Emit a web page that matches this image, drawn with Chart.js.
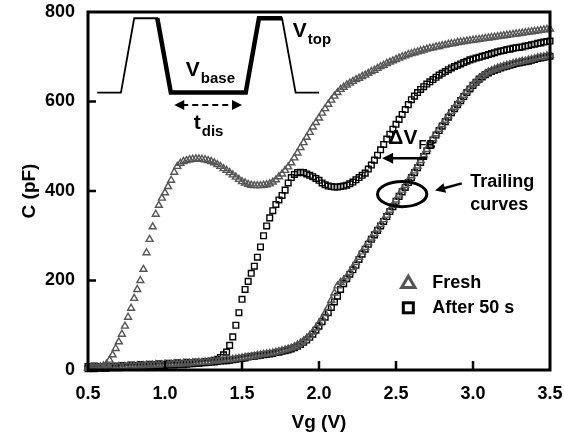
<!DOCTYPE html>
<html>
<head>
<meta charset="utf-8">
<title>C-V</title>
<script src="https://cdn.jsdelivr.net/npm/chart.js@4.4.1/dist/chart.umd.min.js"></script>
<style>
  html, body { margin: 0; padding: 0; background: #fff; }
  canvas { display: block; }
</style>
</head>
<body>
<canvas id="cv" width="564" height="440"></canvas>
<script>
// gate voltage sweep (V)
const vg = [
  0.50, 0.52, 0.54, 0.56, 0.58, 0.60, 0.62, 0.64, 0.66, 0.68,
  0.70, 0.72, 0.74, 0.76, 0.78, 0.80, 0.82, 0.84, 0.86, 0.88,
  0.90, 0.92, 0.94, 0.96, 0.98, 1.00, 1.02, 1.04, 1.06, 1.08,
  1.10, 1.12, 1.14, 1.16, 1.18, 1.20, 1.22, 1.24, 1.26, 1.28,
  1.30, 1.32, 1.34, 1.36, 1.38, 1.40, 1.42, 1.44, 1.46, 1.48,
  1.50, 1.52, 1.54, 1.56, 1.58, 1.60, 1.62, 1.64, 1.66, 1.68,
  1.70, 1.72, 1.74, 1.76, 1.78, 1.80, 1.82, 1.84, 1.86, 1.88,
  1.90, 1.92, 1.94, 1.96, 1.98, 2.00, 2.02, 2.04, 2.06, 2.08,
  2.10, 2.12, 2.14, 2.16, 2.18, 2.20, 2.22, 2.24, 2.26, 2.28,
  2.30, 2.32, 2.34, 2.36, 2.38, 2.40, 2.42, 2.44, 2.46, 2.48,
  2.50, 2.52, 2.54, 2.56, 2.58, 2.60, 2.62, 2.64, 2.66, 2.68,
  2.70, 2.72, 2.74, 2.76, 2.78, 2.80, 2.82, 2.84, 2.86, 2.88,
  2.90, 2.92, 2.94, 2.96, 2.98, 3.00, 3.02, 3.04, 3.06, 3.08,
  3.10, 3.12, 3.14, 3.16, 3.18, 3.20, 3.22, 3.24, 3.26, 3.28,
  3.30, 3.32, 3.34, 3.36, 3.38, 3.40, 3.42, 3.44, 3.46, 3.48,
  3.50
];

// capacitance (pF), fresh device, leading sweep
const freshMain = [
  5, 6, 5, 6, 7, 9, 13, 22, 34, 48,
  63, 80, 98, 118, 138, 160, 180, 200, 225, 262,
  292, 320, 348, 368, 384, 396, 410, 424, 442, 455,
  462, 466, 468, 470, 471, 472, 472, 471, 470, 468,
  466, 463, 459, 455, 450, 446, 441, 436, 431, 426,
  421, 418, 415, 413, 412, 412, 412, 413, 414, 416,
  420, 425, 432, 438, 446, 454, 463, 474, 485, 497,
  508, 520, 531, 543, 553, 563, 574, 584, 594, 603,
  612, 620, 627, 632, 637, 641, 645, 649, 652, 656,
  659, 663, 667, 670, 674, 678, 681, 685, 688, 691,
  694, 697, 700, 702, 705, 707, 709, 711, 713, 715,
  717, 719, 720, 722, 723, 725, 726, 728, 729, 730,
  732, 733, 734, 735, 736, 737, 738, 739, 740, 741,
  742, 743, 744, 745, 746, 747, 748, 749, 750, 751,
  752, 753, 754, 755, 756, 757, 758, 759, 760, 761,
  762
];

// fresh device, trailing sweep
const freshTrail = [
  5, 4, 6, 5, 6, 5, 7, 6, 7, 6,
  8, 7, 8, 9, 8, 9, 10, 9, 10, 11,
  10, 11, 12, 11, 12, 13, 12, 13, 14, 13,
  14, 15, 14, 15, 16, 16, 17, 17, 18, 18,
  19, 20, 20, 21, 22, 23, 23, 24, 25, 26,
  27, 28, 29, 30, 31, 33, 34, 35, 36, 37,
  38, 40, 41, 43, 45, 47, 49, 52, 56, 60,
  65, 71, 77, 85, 94, 104, 115, 127, 140, 156,
  172, 188, 196, 201, 208, 218, 229, 240, 252, 264,
  274, 285, 295, 305, 315, 325, 336, 346, 357, 368,
  380, 391, 402, 413, 423, 434, 445, 456, 468, 481,
  493, 505, 517, 528, 538, 548, 558, 568, 578, 587,
  596, 605, 614, 622, 630, 638, 645, 651, 657, 662,
  666, 669, 672, 675, 677, 679, 681, 683, 685, 687,
  688, 690, 691, 693, 694, 696, 698, 699, 700, 702,
  703
];

// after 50 s, leading sweep
const stressMain = [
  8, 6, 9, 7, 8, 6, 9, 8, 7, 9,
  8, 10, 8, 9, 11, 9, 10, 12, 10, 11,
  13, 11, 12, 14, 12, 13, 15, 13, 14, 16,
  14, 15, 17, 15, 16, 18, 16, 17, 19, 18,
  20, 22, 24, 28, 34, 40, 55, 74, 100, 128,
  158, 180, 198, 216, 232, 252, 275, 300, 322, 340,
  356, 370, 380, 390, 402, 418, 430, 437, 441, 442,
  441, 438, 435, 432, 428, 424, 418, 414, 411, 410,
  409, 409, 410, 411, 413, 416, 420, 425, 430, 435,
  440, 449, 458, 469, 480, 492, 504, 516, 527, 538,
  549, 560, 571, 582, 593, 604, 612, 620, 627, 633,
  639, 644, 649, 654, 659, 663, 667, 671, 675, 678,
  681, 684, 687, 690, 693, 695, 697, 699, 701, 703,
  705, 707, 709, 711, 713, 714, 716, 717, 719, 720,
  721, 722, 724, 725, 727, 728, 730, 731, 733, 734,
  735
];

// after 50 s, trailing sweep
const stressTrail = [
  3, 4, 3, 5, 4, 5, 4, 6, 5, 6,
  5, 7, 6, 7, 6, 8, 7, 8, 9, 8,
  9, 10, 9, 10, 11, 10, 11, 12, 11, 12,
  13, 12, 13, 14, 14, 15, 15, 16, 16, 17,
  18, 18, 19, 20, 21, 21, 22, 23, 24, 25,
  26, 27, 29, 30, 31, 32, 33, 34, 35, 36,
  37, 39, 40, 42, 43, 45, 47, 50, 53, 57,
  62, 67, 73, 80, 89, 98, 108, 118, 128, 140,
  152, 165, 180, 193, 204, 214, 224, 234, 247, 259,
  270, 281, 292, 302, 312, 322, 332, 343, 354, 365,
  377, 388, 398, 408, 419, 430, 441, 452, 464, 477,
  490, 502, 514, 525, 535, 545, 555, 565, 575, 584,
  593, 602, 611, 620, 628, 636, 643, 650, 655, 660,
  664, 667, 670, 672, 675, 677, 679, 681, 683, 685,
  686, 688, 689, 690, 692, 694, 696, 697, 699, 700,
  701
];

// pulse waveform sketch in the corner (drawn on the same axes)
const pulseV = [0.56, 0.714, 0.80, 0.95, 1.038, 1.524, 1.61, 1.76, 1.848, 2.0];
const pulseC = [620, 620, 786, 786, 620, 620, 786, 786, 620, 620];
const pulseBoldFrom = 3, pulseBoldTo = 7; // discharge part drawn heavier

const legendItems = ['Fresh', 'After 50 s'];

const FONT = '"Liberation Sans", Arial, sans-serif';
const GRAY = '#555555';

const pts = (xs, ys) => xs.map((v, i) => ({ x: v, y: ys[i] }));

function markerSet(label, ys, style, color) {
  return {
    label,
    data: pts(vg, ys),
    pointStyle: style,
    pointRadius: 4,
    pointBorderWidth: 1.4,
    borderColor: color,
    backgroundColor: 'rgba(255,255,255,0)',
    showLine: false,
    clip: false
  };
}

const boldV = pulseV.slice(pulseBoldFrom, pulseBoldTo + 1);
const boldC = pulseC.slice(pulseBoldFrom, pulseBoldTo + 1);

function arrowHead(ctx, x1, y1, x2, y2, len, half) {
  const a = Math.atan2(y2 - y1, x2 - x1);
  ctx.beginPath();
  ctx.moveTo(x2, y2);
  ctx.lineTo(x2 - len * Math.cos(a) + half * Math.sin(a), y2 - len * Math.sin(a) - half * Math.cos(a));
  ctx.lineTo(x2 - len * Math.cos(a) - half * Math.sin(a), y2 - len * Math.sin(a) + half * Math.cos(a));
  ctx.closePath();
  ctx.fill();
}

// text with subscript, left edge at (x, y)
function subText(ctx, main, sub, x, y, size, subSize, drop) {
  ctx.font = 'bold ' + size + 'px ' + FONT;
  ctx.fillText(main, x, y);
  const w = ctx.measureText(main).width;
  ctx.font = 'bold ' + subSize + 'px ' + FONT;
  ctx.fillText(sub, x + w + 1, y + drop);
}

const notes = {
  id: 'notes',
  afterDatasetsDraw(chart) {
    const { ctx, chartArea: a, scales: { x, y } } = chart;
    const px = v => x.getPixelForValue(v);
    const py = c => y.getPixelForValue(c);
    ctx.save();
    ctx.fillStyle = '#000';
    ctx.strokeStyle = '#000';

    // frame + inward tick marks
    ctx.lineWidth = 3;
    ctx.strokeRect(a.left, a.top, a.right - a.left, a.bottom - a.top);
    ctx.lineWidth = 2.5;
    ctx.beginPath();
    x.ticks.forEach(t => {
      if (t.value <= x.min || t.value >= x.max) return;
      ctx.moveTo(px(t.value), a.bottom);
      ctx.lineTo(px(t.value), a.bottom - 9);
    });
    y.ticks.forEach(t => {
      if (t.value <= y.min || t.value >= y.max) return;
      ctx.moveTo(a.left, py(t.value));
      ctx.lineTo(a.left + 8, py(t.value));
    });
    ctx.stroke();

    ctx.textBaseline = 'middle';
    ctx.textAlign = 'left';

    // pulse labels
    subText(ctx, 'V', 'top', px(1.83), py(756), 21, 15, 8);
    subText(ctx, 'V', 'base', px(1.135), py(669), 21, 15, 8);
    subText(ctx, 't', 'dis', px(1.187), py(551), 21, 15, 8);

    // dashed double arrow under the base level
    const ay = py(592), ax1 = px(1.06), ax2 = px(1.50);
    ctx.lineWidth = 2;
    ctx.setLineDash([6, 4]);
    ctx.beginPath();
    ctx.moveTo(ax1 + 8, ay);
    ctx.lineTo(ax2 - 8, ay);
    ctx.stroke();
    ctx.setLineDash([]);
    arrowHead(ctx, ax2, ay, ax1, ay, 10, 5);
    arrowHead(ctx, ax1, ay, ax2, ay, 10, 5);

    // flat-band shift arrow
    const fy = py(473), fx1 = px(2.70), fx2 = px(2.41);
    ctx.lineWidth = 2.5;
    ctx.beginPath();
    ctx.moveTo(fx1, fy);
    ctx.lineTo(fx2 + 8, fy);
    ctx.stroke();
    arrowHead(ctx, fx1, fy, fx2, fy, 11, 5.5);
    subText(ctx, '\u0394V', 'FB', px(2.45), py(519), 21, 13, 8);

    // ellipse round the trailing curves
    ctx.lineWidth = 3;
    ctx.beginPath();
    ctx.ellipse(px(2.54), py(393), px(2.54) - px(2.38), py(365) - py(393), 0, 0, Math.PI * 2);
    ctx.stroke();

    const tx1 = px(2.927), ty1 = py(417), tx2 = px(2.754), ty2 = py(401);
    ctx.lineWidth = 2.5;
    ctx.beginPath();
    ctx.moveTo(tx1, ty1);
    ctx.lineTo(tx2 + 6, ty2 - 1.5);
    ctx.stroke();
    arrowHead(ctx, tx1, ty1, tx2, ty2, 10, 5);

    ctx.font = 'bold 18px ' + FONT;
    ctx.fillText('Trailing', px(2.982), py(419));
    ctx.fillText('curves', px(2.982), py(369));

    // legend markers and labels
    const tr = 7, tcx = px(2.58), tcy = py(194);
    ctx.strokeStyle = GRAY;
    ctx.lineWidth = 3;
    ctx.lineJoin = 'miter';
    ctx.beginPath();
    ctx.moveTo(tcx, tcy - tr);
    ctx.lineTo(tcx + tr * 0.95, tcy + tr * 0.6);
    ctx.lineTo(tcx - tr * 0.95, tcy + tr * 0.6);
    ctx.closePath();
    ctx.stroke();
    ctx.strokeStyle = '#000';
    ctx.strokeRect(px(2.58) - 5, py(139) - 5, 10, 10);
    ctx.font = 'bold 18px ' + FONT;
    ctx.fillText(legendItems[0], px(2.736), py(194));
    ctx.fillText(legendItems[1], px(2.736), py(139));

    ctx.restore();
  }
};

new Chart(document.getElementById('cv'), {
  type: 'scatter',
  data: {
    datasets: [
      markerSet(legendItems[0], freshMain, 'triangle', GRAY),
      markerSet(legendItems[0] + ' (trailing)', freshTrail, 'triangle', GRAY),
      markerSet(legendItems[1], stressMain, 'rect', '#000'),
      markerSet(legendItems[1] + ' (trailing)', stressTrail, 'rect', '#000'),
      {
        label: 'pulse',
        data: pts(pulseV, pulseC),
        showLine: true,
        pointRadius: 0,
        borderColor: '#000',
        borderWidth: 1.8,
        clip: false
      },
      {
        label: 'discharge',
        data: pts(boldV, boldC),
        showLine: true,
        pointRadius: 0,
        borderColor: '#000',
        borderWidth: 4.5,
        borderJoinStyle: 'miter',
        clip: false
      }
    ]
  },
  options: {
    responsive: false,
    animation: false,
    devicePixelRatio: 1,
    layout: { padding: { left: 0, right: 14, top: 12, bottom: 0 } },
    plugins: { legend: { display: false }, tooltip: { enabled: false } },
    scales: {
      x: {
        type: 'linear',
        min: 0.5,
        max: 3.5,
        afterFit: s => {
          s.height = 70;
          s.paddingLeft = 0;
          s.paddingRight = 0;
        },
        ticks: {
          stepSize: 0.5,
          color: '#000',
          padding: 13,
          maxRotation: 0,
          font: { family: FONT, size: 18, weight: 'bold' },
          callback: v => v.toFixed(1)
        },
        grid: { display: false, drawTicks: false },
        border: { display: false },
        title: {
          display: true,
          text: 'Vg (V)',
          color: '#000',
          font: { family: FONT, size: 19, weight: 'bold' },
          padding: { top: 0, bottom: 6 }
        }
      },
      y: {
        min: 0,
        max: 800,
        afterFit: s => {
          s.width = 88;
          s.paddingTop = 0;
          s.paddingBottom = 0;
        },
        ticks: {
          stepSize: 200,
          color: '#000',
          padding: 13,
          font: { family: FONT, size: 18, weight: 'bold' }
        },
        grid: { display: false, drawTicks: false },
        border: { display: false },
        title: {
          display: true,
          text: 'C (pF)',
          color: '#000',
          font: { family: FONT, size: 19, weight: 'bold' },
          padding: { top: 18, bottom: 0 }
        }
      }
    }
  },
  plugins: [notes]
});
</script>
</body>
</html>
